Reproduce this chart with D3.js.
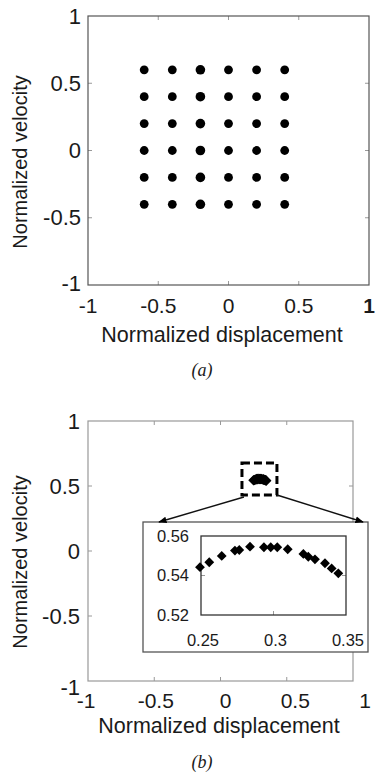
<!DOCTYPE html>
<html>
<head>
<meta charset="utf-8">
<script src="https://cdn.jsdelivr.net/npm/d3@7"></script>
<style>
  body { margin: 0; background: #fff; }
  text { font-family: "Liberation Sans", Arial, sans-serif; fill: #1a1a1a; }
  .cap { font-family: "Liberation Serif", "Times New Roman", serif; font-style: italic; }
</style>
</head>
<body>
<div id="chart"></div>
<script>
// ticks for both main panels
const xTicks = [-1, -0.5, 0, 0.5, 1]
const yTicks = [-1, -0.5, 0, 0.5, 1]

// panel (a): initial grid of states
const gridDisp = [-0.6, -0.4, -0.2, 0, 0.2, 0.4]
const gridVel = [0.6, 0.4, 0.2, 0, -0.2, -0.4]

// panel (b): converged states
const trajDisp = [0.2493, 0.2557, 0.2643, 0.2734, 0.2764, 0.2838, 0.2934, 0.2981, 0.3026, 0.3098, 0.3206, 0.3240, 0.3286, 0.3355, 0.3401, 0.3447]
const trajVel = [0.5442, 0.5467, 0.5499, 0.5526, 0.5529, 0.5546, 0.5543, 0.5543, 0.5543, 0.5533, 0.5509, 0.5495, 0.5482, 0.5462, 0.5436, 0.5411]

// inset ticks
const insetXTicks = [0.25, 0.3, 0.35]
const insetYTicks = [0.52, 0.54, 0.56]

// dashed zoom box around the cluster, in data units [x0, x1, y0, y1]
const zoomBox = [0.162, 0.426, 0.431, 0.677]

const W = 376, H = 776
const svg = d3.select('#chart').append('svg').attr('width', W).attr('height', H)
svg.append('rect').attr('width', W).attr('height', H).attr('fill', '#fff')

const fmt = d => d3.format('')(d).replace('−', '-')

function panel(opts) {
    const { x, y, xl, boxColor, xPad, yPad, boldLast } = opts
    const g = svg.append('g')
    const [x0, x1] = x.range()
    const [y0, y1] = y.range()

    // inward ticks on all four sides, MATLAB style
    const inner = xTicks.slice(1, -1)
    const innerY = yTicks.slice(1, -1)
    g.selectAll('line.tb').data(inner).enter().append('line')
        .attr('x1', d => x(d)).attr('x2', d => x(d))
        .attr('y1', y0).attr('y2', y0 - 4)
        .attr('stroke', '#999')
    g.selectAll('line.tt').data(inner).enter().append('line')
        .attr('x1', d => x(d)).attr('x2', d => x(d))
        .attr('y1', y1).attr('y2', y1 + 4)
        .attr('stroke', '#999')
    g.selectAll('line.tl').data(innerY).enter().append('line')
        .attr('y1', d => y(d)).attr('y2', d => y(d))
        .attr('x1', x0).attr('x2', x0 + 4)
        .attr('stroke', '#999')
    g.selectAll('line.tr').data(innerY).enter().append('line')
        .attr('y1', d => y(d)).attr('y2', d => y(d))
        .attr('x1', x1).attr('x2', x1 - 4)
        .attr('stroke', '#999')

    g.append('rect')
        .attr('x', x0).attr('y', y1)
        .attr('width', x1 - x0).attr('height', y0 - y1)
        .attr('fill', 'none').attr('stroke', boxColor).attr('stroke-width', 1.2)

    // tick labels
    g.selectAll('text.xl').data(xTicks).enter().append('text')
        .attr('x', d => xl(d)).attr('y', y0 + xPad)
        .attr('dy', '0.71em')
        .attr('text-anchor', 'middle')
        .style('font-size', '21px')
        .style('font-weight', (d, i) => boldLast && i === xTicks.length - 1 ? 'bold' : 'normal')
        .text(fmt)
    g.selectAll('text.yl').data(yTicks).enter().append('text')
        .attr('x', x0 - yPad).attr('y', d => y(d) + (d === -1 ? opts.lowDrop : 0))
        .attr('dy', '0.35em')
        .attr('text-anchor', 'end')
        .style('font-size', '22px')
        .text(fmt)

    g.append('text')
        .attr('x', opts.xLabelX).attr('y', opts.xLabelY)
        .attr('text-anchor', 'middle')
        .style('font-size', '21.5px')
        .text('Normalized displacement')
    g.append('text')
        .attr('transform', `translate(27 ${opts.yLabelY}) rotate(-90)`)
        .attr('text-anchor', 'middle')
        .style('font-size', '20px')
        .text('Normalized velocity')
    g.append('text').classed('cap', true)
        .attr('x', 202).attr('y', opts.capY)
        .attr('text-anchor', 'middle')
        .style('font-size', '18px')
        .text(opts.cap)
    return g
}

// ---------- panel (a)
const xA = d3.scaleLinear().domain([-1, 1]).range([88, 369])
const yA = d3.scaleLinear().domain([-1, 1]).range([285, 16])
const gA = panel({ x: xA, y: yA, xl: xA, boxColor: '#555', xPad: 13, yPad: 7, boldLast: true,
    lowDrop: -2, xLabelX: 222, xLabelY: 342, yLabelY: 162, capY: 376, cap: '(a)' })

const gridPts = d3.cross(gridDisp, gridVel)
gA.selectAll('circle').data(gridPts).enter().append('circle')
    .attr('cx', d => xA(d[0])).attr('cy', d => yA(d[1]))
    .attr('r', d => d[0] === -0.2 ? 4.8 : 4.4)
    .attr('fill', '#000')

// ---------- panel (b)
const xB = d3.scaleLinear().domain([-1, 1]).range([88, 353])
const xBl = d3.scaleLinear().domain([-1, 1]).range([86, 365])
const yB = d3.scaleLinear().domain([-1, 1]).range([681, 421])
const gB = panel({ x: xB, y: yB, xl: xBl, boxColor: '#999', xPad: 12, yPad: 8, boldLast: false,
    lowDrop: 6, xLabelX: 219, xLabelY: 733, yLabelY: 562, capY: 768, cap: '(b)' })

const traj = d3.zip(trajDisp, trajVel)
const diamond = d3.symbol().type(d3.symbolSquare).size(48)

gB.selectAll('path.m').data(traj).enter().append('path')
    .attr('d', d3.symbol().type(d3.symbolSquare).size(56))
    .attr('transform', d => `translate(${xB(d[0])} ${yB(d[1])}) rotate(45)`)
    .attr('fill', '#000')

// dashed zoom box
const zx0 = xB(zoomBox[0]), zx1 = xB(zoomBox[1])
const zy0 = yB(zoomBox[2]), zy1 = yB(zoomBox[3])
gB.append('rect')
    .attr('x', zx0).attr('y', zy1)
    .attr('width', zx1 - zx0).attr('height', zy0 - zy1)
    .attr('fill', 'none').attr('stroke', '#000')
    .attr('stroke-width', 3).attr('stroke-dasharray', '8 4')

// inset
const inset = { left: 143, right: 368, top: 522, bottom: 652 }
const xI = d3.scaleLinear().domain([0.25, 0.35]).range([201, 346])
const yI = d3.scaleLinear().domain([0.52, 0.56]).range([615, 536])

svg.append('defs').append('marker')
    .attr('id', 'arr').attr('viewBox', '0 0 10 10')
    .attr('refX', 9).attr('refY', 5)
    .attr('markerWidth', 6).attr('markerHeight', 6)
    .attr('orient', 'auto')
    .append('path').attr('d', 'M0,1 L10,5 L0,9 Z').attr('fill', '#000')

const gI = svg.append('g')
gI.append('rect')
    .attr('x', inset.left).attr('y', inset.top)
    .attr('width', inset.right - inset.left).attr('height', inset.bottom - inset.top)
    .attr('fill', '#fff').attr('stroke', '#555').attr('stroke-width', 1.3)

gI.append('line')
    .attr('x1', zx0 + 2).attr('y1', zy0 + 2)
    .attr('x2', inset.left + 16).attr('y2', inset.top)
    .attr('stroke', '#111').attr('stroke-width', 1.4)
    .attr('marker-end', 'url(#arr)')
gI.append('line')
    .attr('x1', zx1).attr('y1', zy0)
    .attr('x2', inset.right - 5).attr('y2', inset.top)
    .attr('stroke', '#111').attr('stroke-width', 1.4)
    .attr('marker-end', 'url(#arr)')

const [ix0, ix1] = xI.range()
const [iy0, iy1] = yI.range()
gI.append('line').attr('x1', xI(0.3)).attr('x2', xI(0.3)).attr('y1', iy0).attr('y2', iy0 - 4).attr('stroke', '#999')
gI.append('line').attr('x1', ix0).attr('x2', ix0 + 4).attr('y1', yI(0.54)).attr('y2', yI(0.54)).attr('stroke', '#999')
gI.append('line').attr('x1', ix1).attr('x2', ix1 - 4).attr('y1', yI(0.54)).attr('y2', yI(0.54)).attr('stroke', '#999')
gI.append('rect')
    .attr('x', ix0).attr('y', iy1)
    .attr('width', ix1 - ix0).attr('height', iy0 - iy1)
    .attr('fill', 'none').attr('stroke', '#333').attr('stroke-width', 1.3)

gI.selectAll('text.ix').data(insetXTicks).enter().append('text')
    .attr('x', d => xI(d) + 2).attr('y', iy0 + 19)
    .attr('dy', '0.71em')
    .attr('text-anchor', 'middle')
    .style('font-size', '16.5px')
    .text(d => d3.format('')(d))
gI.selectAll('text.iy').data(insetYTicks).enter().append('text')
    .attr('x', ix0 - 12).attr('y', d => yI(d))
    .attr('dy', '0.35em')
    .attr('text-anchor', 'end')
    .style('font-size', '16.5px')
    .text(d => d3.format('.2f')(d))

gI.selectAll('path.m').data(traj).enter().append('path')
    .attr('d', diamond)
    .attr('transform', d => `translate(${xI(d[0])} ${yI(d[1])}) rotate(45)`)
    .attr('fill', '#000')
</script>
</body>
</html>
